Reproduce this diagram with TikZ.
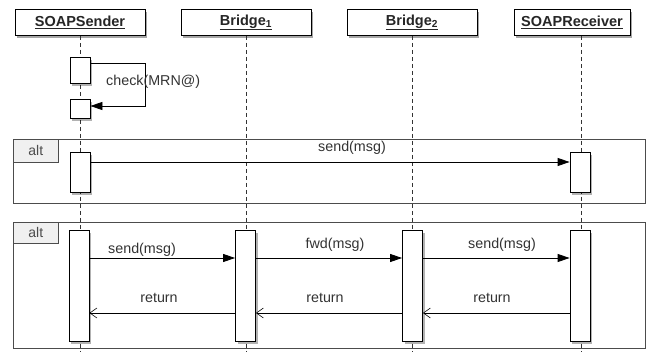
\documentclass[tikz,border=0pt]{standalone}
\usepackage{fontspec}
\setmainfont{Liberation Sans}
\usetikzlibrary{arrows.meta,shadows}
\begin{document}
\begin{tikzpicture}[x=1pt,y=-1pt,
  hdr/.style={draw=black, fill=white, line width=0.8pt, minimum width=130pt, minimum height=26pt, inner sep=0pt,
    drop shadow={shadow xshift=2pt, shadow yshift=-3pt, opacity=0.35, fill=black},
    font=\fontsize{14.5}{16}\selectfont\bfseries, text=black!85},
  life/.style={dashed, dash pattern=on 4pt off 3pt, line width=0.7pt, black!80},
  act/.style={draw=black, fill=white, line width=0.8pt, minimum width=20pt, inner sep=0pt, anchor=north,
    drop shadow={shadow xshift=2pt, shadow yshift=-3pt, opacity=0.3, fill=black}},
  frm/.style={draw=black!70, line width=0.7pt, anchor=north west, inner sep=0pt},
  tab/.style={draw=black!70, fill=black!6, line width=0.7pt, anchor=north west, inner sep=0pt,
    minimum width=45pt, font=\fontsize{14}{16}\selectfont, text=black!70},
  msg/.style={line width=0.8pt, -{Triangle[length=12pt,width=8pt]}},
  ret/.style={line width=0.8pt, -{Straight Barb[length=7pt,width=10pt,line width=0.6pt]}},
  lbl/.style={font=\fontsize{14.3}{16}\selectfont, text=black!80, inner sep=0pt}
]
\useasboundingbox (0,0) rectangle (650,352);
\fill[white] (0,0) rectangle (650,352);

% headers
\node[hdr] (s) at (80,22.5) {\underline{SOAPSender}};
\node[hdr] (b1) at (246,22.5) {\underline{Bridge\textsubscript{1}}};
\node[hdr] (b2) at (412,22.5) {\underline{Bridge\textsubscript{2}}};
\node[hdr, minimum width=116pt] (r) at (572,22.5) {\underline{SOAPReceiver}};

% lifelines
\coordinate (send) at (80,352);
\coordinate (b1end) at (246,352);
\coordinate (b2end) at (412,352);
\coordinate (rend) at (581,352);
\draw[life] (s.south -| send) -- (send);
\draw[life] (b1.south) -- (b1end);
\draw[life] (b2.south) -- (b2end);
\draw[life] (r.south -| rend) -- (rend);

% frames
\node[frm, minimum width=632pt, minimum height=64pt] (f1) at (13,139) {};
\node[tab, minimum height=23pt] (t1) at (13,139) {alt};
\node[frm, minimum width=632pt, minimum height=126pt] (f2) at (13,222) {};
\node[tab, minimum height=21pt] (t2) at (13,222) {alt};

% self call
\node[act, minimum height=26pt] (sa1) at (80,57) {};
\node[act, minimum height=19pt] (sa2) at (80,99) {};
\coordinate (c1) at (145,63);
\coordinate (c2) at (145,106);
\draw[msg] (sa1.east |- c1) -- (c1) -- (c2) -- (sa2.east |- c2);
\node[lbl, anchor=west] (lc) at (106,82) {check(MRN@)};

% frame 1
\node[act, minimum height=40pt] (sa3) at (80,152) {};
\node[act, minimum height=40pt] (ra1) at (580,152) {};
\coordinate (y1) at (0,162);
\draw[msg] (sa3.east |- y1) -- (ra1.west |- y1);
\node[lbl] (l1) at (352,148) {send(msg)};

% frame 2
\node[act, minimum height=111pt] (sa4) at (79,230) {};
\node[act, minimum height=111pt] (ba1) at (245.5,230) {};
\node[act, minimum height=111pt] (ba2) at (412.5,230) {};
\node[act, minimum height=111pt] (ra2) at (580,230) {};
\coordinate (y2) at (0,258);
\coordinate (y3) at (0,313);
\draw[msg] (sa4.east |- y2) -- (ba1.west |- y2);
\draw[msg] (ba1.east |- y2) -- (ba2.west |- y2);
\draw[msg] (ba2.east |- y2) -- (ra2.west |- y2);
\draw[ret] (ra2.west |- y3) -- (ba2.east |- y3);
\draw[ret] (ba2.west |- y3) -- (ba1.east |- y3);
\draw[ret] (ba1.west |- y3) -- (sa4.east |- y3);
\node[lbl] (l2) at (142,250) {send(msg)};
\node[lbl] (l3) at (335,245) {fwd(msg)};
\node[lbl] (l4) at (502,245) {send(msg)};
\node[lbl] (l5) at (159,298) {return};
\node[lbl] (l6) at (325,298) {return};
\node[lbl] (l7) at (492,298) {return};
\end{tikzpicture}
\end{document}
